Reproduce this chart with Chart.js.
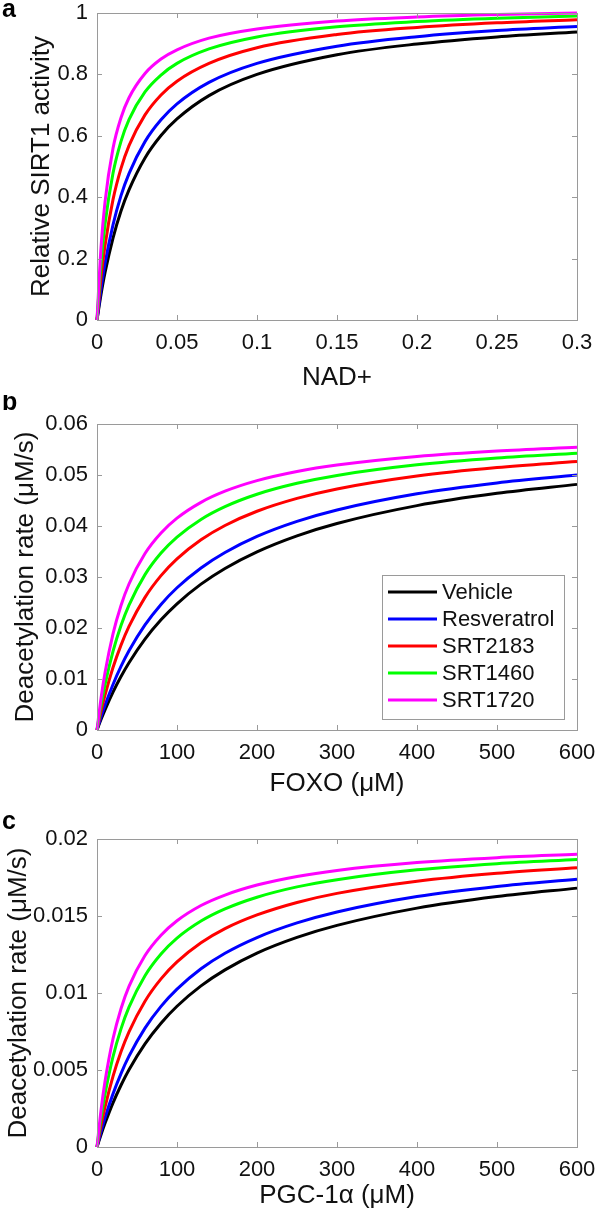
<!DOCTYPE html>
<html>
<head>
<meta charset="utf-8">
<script src="https://cdn.jsdelivr.net/npm/chart.js@4.4.0/dist/chart.umd.min.js"></script>
<style>
html, body { margin: 0; padding: 0; background: #fff; }
#wrap { position: relative; width: 597px; height: 1216px; overflow: hidden; }
.panel { position: absolute; left: 0; width: 597px; }
</style>
</head>
<body>
<div id="wrap">
  <div class="panel" style="top:0px"><canvas id="chartA" width="597" height="395"></canvas></div>
  <div class="panel" style="top:395px"><canvas id="chartB" width="597" height="405"></canvas></div>
  <div class="panel" style="top:800px"><canvas id="chartC" width="597" height="416"></canvas></div>
</div>
<script>
// series
var seriesNames = ['Vehicle', 'Resveratrol', 'SRT2183', 'SRT1460', 'SRT1720'];
var seriesColors = ['#000000', '#0000ff', '#ff0000', '#00ff00', '#ff00ff'];

// panel a : SIRT1 activity vs NAD+
var nadX = [0, 0.0025, 0.005, 0.01, 0.015, 0.02, 0.03, 0.04, 0.05, 0.07, 0.1, 0.15, 0.2, 0.25, 0.3];
var nadVehicle     = [0, 0.083, 0.154, 0.267, 0.355, 0.424, 0.528, 0.601, 0.655, 0.731, 0.800, 0.864, 0.899, 0.922, 0.938];
var nadResveratrol = [0, 0.100, 0.183, 0.310, 0.405, 0.477, 0.581, 0.652, 0.704, 0.774, 0.836, 0.892, 0.923, 0.943, 0.956];
var nadSRT2183     = [0, 0.137, 0.242, 0.392, 0.494, 0.568, 0.668, 0.733, 0.778, 0.836, 0.887, 0.930, 0.953, 0.968, 0.978];
var nadSRT1460     = [0, 0.184, 0.312, 0.478, 0.582, 0.653, 0.743, 0.798, 0.836, 0.883, 0.922, 0.955, 0.972, 0.983, 0.990];
var nadSRT1720     = [0, 0.236, 0.384, 0.559, 0.659, 0.724, 0.803, 0.850, 0.880, 0.918, 0.948, 0.974, 0.987, 0.995, 1.000];

// panel b : deacetylation rate vs FOXO
var foxoX = [0, 5, 10, 20, 30, 40, 60, 80, 100, 130, 160, 200, 250, 300, 400, 500, 600];
var foxoVehicle     = [0, 0.00205, 0.00396, 0.00743, 0.01048, 0.0132, 0.01782, 0.0216, 0.02475, 0.0286, 0.03168, 0.03494, 0.03808, 0.0405, 0.044, 0.0464, 0.04816];
var foxoResveratrol = [0, 0.00252, 0.00483, 0.00893, 0.01246, 0.01553, 0.0206, 0.02462, 0.02789, 0.03178, 0.03481, 0.03796, 0.04091, 0.04315, 0.04632, 0.04845, 0.04999];
var foxoSRT2183     = [0, 0.00362, 0.00683, 0.01225, 0.01665, 0.02031, 0.02601, 0.03027, 0.03356, 0.0373, 0.0401, 0.04289, 0.04541, 0.04727, 0.04981, 0.05147, 0.05264];
var foxoSRT1460     = [0, 0.00479, 0.00887, 0.01543, 0.02048, 0.02449, 0.03046, 0.03469, 0.03783, 0.04129, 0.0438, 0.04623, 0.04837, 0.04992, 0.05199, 0.05332, 0.05425];
var foxoSRT1720     = [0, 0.00619, 0.01121, 0.01886, 0.02441, 0.02863, 0.0346, 0.03863, 0.04154, 0.04464, 0.04682, 0.04889, 0.05068, 0.05195, 0.05363, 0.0547, 0.05543];

// panel c : deacetylation rate vs PGC-1a
var pgcX = [0, 5, 10, 20, 30, 40, 60, 80, 100, 130, 160, 200, 250, 300, 400, 500, 600];
var pgcVehicle     = [0, 0.0008, 0.00154, 0.00287, 0.00401, 0.00502, 0.0067, 0.00804, 0.00914, 0.01046, 0.0115, 0.01259, 0.01361, 0.01439, 0.01551, 0.01626, 0.01681];
var pgcResveratrol = [0, 0.00099, 0.00189, 0.00345, 0.00477, 0.0059, 0.00772, 0.00913, 0.01025, 0.01157, 0.01258, 0.0136, 0.01455, 0.01526, 0.01626, 0.01692, 0.01739];
var pgcSRT2183     = [0, 0.00138, 0.00259, 0.00459, 0.00618, 0.00748, 0.00947, 0.01092, 0.01202, 0.01326, 0.01418, 0.01507, 0.01588, 0.01647, 0.01726, 0.01778, 0.01814];
var pgcSRT1460     = [0, 0.00187, 0.00342, 0.00586, 0.00767, 0.00908, 0.01112, 0.01253, 0.01356, 0.01467, 0.01546, 0.01622, 0.01689, 0.01736, 0.018, 0.0184, 0.01867];
var pgcSRT1720     = [0, 0.00238, 0.00425, 0.00703, 0.00898, 0.01043, 0.01243, 0.01375, 0.01469, 0.01568, 0.01636, 0.01701, 0.01757, 0.01796, 0.01847, 0.01879, 0.01901];

// ticks
var nadTicks = [0, 0.05, 0.1, 0.15, 0.2, 0.25, 0.3];
var nadTickLabels = ['0', '0.05', '0.1', '0.15', '0.2', '0.25', '0.3'];
var activityTicks = [0, 0.2, 0.4, 0.6, 0.8, 1];
var activityTickLabels = ['0', '0.2', '0.4', '0.6', '0.8', '1'];
var concTicks = [0, 100, 200, 300, 400, 500, 600];
var concTickLabels = ['0', '100', '200', '300', '400', '500', '600'];
var foxoRateTicks = [0, 0.01, 0.02, 0.03, 0.04, 0.05, 0.06];
var foxoRateTickLabels = ['0', '0.01', '0.02', '0.03', '0.04', '0.05', '0.06'];
var pgcRateTicks = [0, 0.005, 0.01, 0.015, 0.02];
var pgcRateTickLabels = ['0', '0.005', '0.01', '0.015', '0.02'];

var fontFam = '"Liberation Sans", Arial, Helvetica, sans-serif';
var axisColor = '#9a9a9a';
var textColor = '#111111';

function makeChart(id, xs, ys, o) {
	var datasets = ys.map(function(arr, i) {
		return {
			label: seriesNames[i],
			data: arr.map(function(v, j) { return {x: xs[j], y: v}; }),
			borderColor: seriesColors[i],
			backgroundColor: seriesColors[i],
			borderWidth: 3,
			pointRadius: 0,
			cubicInterpolationMode: 'monotone',
			order: ys.length - i,
			clip: 4
		};
	});

	var frame = {
		id: 'frame' + id,
		afterDraw: function(chart) {
			var ctx = chart.ctx, a = chart.chartArea;
			var sx = chart.scales.x, sy = chart.scales.y;
			ctx.save();
			ctx.strokeStyle = axisColor;
			ctx.lineWidth = 1;
			ctx.strokeRect(Math.round(a.left) + 0.5, Math.round(a.top) + 0.5, Math.round(a.right - a.left), Math.round(a.bottom - a.top));
			ctx.beginPath();
			sx.ticks.forEach(function(t) {
				var px = Math.round(sx.getPixelForValue(t.value)) + 0.5;
				ctx.moveTo(px, a.bottom); ctx.lineTo(px, a.bottom - 5);
				ctx.moveTo(px, a.top); ctx.lineTo(px, a.top + 5);
			});
			sy.ticks.forEach(function(t) {
				var py = Math.round(sy.getPixelForValue(t.value)) + 0.5;
				ctx.moveTo(a.left, py); ctx.lineTo(a.left + 5, py);
				ctx.moveTo(a.right, py); ctx.lineTo(a.right - 5, py);
			});
			ctx.stroke();

			// panel letter
			ctx.fillStyle = '#000';
			ctx.font = 'bold 25px ' + fontFam;
			ctx.textBaseline = 'middle';
			ctx.textAlign = 'left';
			ctx.fillText(o.letter, 2, o.letterY);

			if (o.legend) {
				var lg = o.legend;
				ctx.fillStyle = '#fff';
				ctx.fillRect(lg.x, lg.y, lg.w, lg.h);
				ctx.strokeStyle = axisColor;
				ctx.lineWidth = 1;
				ctx.strokeRect(lg.x + 0.5, lg.y + 0.5, lg.w, lg.h);
				ctx.font = '22px ' + fontFam;
				chart.data.datasets.forEach(function(ds, i) {
					var yy = lg.y + 17 + i * 27;
					ctx.strokeStyle = ds.borderColor;
					ctx.lineWidth = 3;
					ctx.beginPath();
					ctx.moveTo(lg.x + 6, yy); ctx.lineTo(lg.x + 55, yy);
					ctx.stroke();
					ctx.fillStyle = textColor;
					ctx.fillText(ds.label, lg.x + 60, yy + 1);
				});
			}
			ctx.restore();
		}
	};

	return new Chart(document.getElementById(id), {
		type: 'line',
		data: { datasets: datasets },
		options: {
			responsive: false,
			animation: false,
			layout: { padding: { top: o.padTop, right: 20, left: 0, bottom: 0 } },
			plugins: { legend: { display: false }, tooltip: { enabled: false } },
			scales: {
				x: {
					type: 'linear',
					min: 0,
					max: o.xMax,
					grid: { display: false, drawTicks: false },
					border: { display: false },
					afterBuildTicks: function(s) { s.ticks = o.xTicks.map(function(v) { return {value: v}; }); },
					afterFit: function(s) { s.height = o.xAxisH; s.paddingLeft = 0; s.paddingRight = 0; },
					ticks: {
						padding: 10,
						maxRotation: 0,
						autoSkip: false,
						color: textColor,
						font: { family: fontFam, size: 22 },
						callback: function(v, i) { return o.xLabels[i]; }
					},
					title: {
						display: true,
						text: o.xTitle,
						color: textColor,
						font: { family: fontFam, size: 26 },
						padding: { top: 0, bottom: o.xTitlePad }
					}
				},
				y: {
					type: 'linear',
					min: 0,
					max: o.yMax,
					grid: { display: false, drawTicks: false },
					border: { display: false },
					afterBuildTicks: function(s) { s.ticks = o.yTicks.map(function(v) { return {value: v}; }); },
					afterFit: function(s) { s.width = 97; s.paddingTop = 0; s.paddingBottom = 0; },
					ticks: {
						padding: 9,
						autoSkip: false,
						color: textColor,
						font: { family: fontFam, size: 22 },
						callback: function(v, i) { return o.yLabels[i]; }
					},
					title: {
						display: true,
						text: o.yTitle,
						color: textColor,
						font: { family: fontFam, size: 26 },
						padding: { top: o.yTitlePad, bottom: 0 }
					}
				}
			}
		},
		plugins: [frame]
	});
}

makeChart('chartA', nadX, [nadVehicle, nadResveratrol, nadSRT2183, nadSRT1460, nadSRT1720], {
	xMax: 0.3, yMax: 1,
	xTicks: nadTicks, xLabels: nadTickLabels,
	yTicks: activityTicks, yLabels: activityTickLabels,
	xTitle: 'NAD+', yTitle: 'Relative SIRT1 activity',
	padTop: 13, xAxisH: 75, xTitlePad: 2, yTitlePad: 26,
	letter: 'a', letterY: 10
});

makeChart('chartB', foxoX, [foxoVehicle, foxoResveratrol, foxoSRT2183, foxoSRT1460, foxoSRT1720], {
	xMax: 600, yMax: 0.06,
	xTicks: concTicks, xLabels: concTickLabels,
	yTicks: foxoRateTicks, yLabels: foxoRateTickLabels,
	xTitle: 'FOXO (μM)', yTitle: 'Deacetylation rate (μM/s)',
	padTop: 29, xAxisH: 70, xTitlePad: 1, yTitlePad: 10,
	letter: 'b', letterY: 8,
	legend: { x: 382, y: 180, w: 182, h: 144 }
});

makeChart('chartC', pgcX, [pgcVehicle, pgcResveratrol, pgcSRT2183, pgcSRT1460, pgcSRT1720], {
	xMax: 600, yMax: 0.02,
	xTicks: concTicks, xLabels: concTickLabels,
	yTicks: pgcRateTicks, yLabels: pgcRateTickLabels,
	xTitle: 'PGC-1α (μM)', yTitle: 'Deacetylation rate (μM/s)',
	padTop: 39, xAxisH: 69, xTitlePad: 5, yTitlePad: 3,
	letter: 'c', letterY: 22
});
</script>
</body>
</html>
